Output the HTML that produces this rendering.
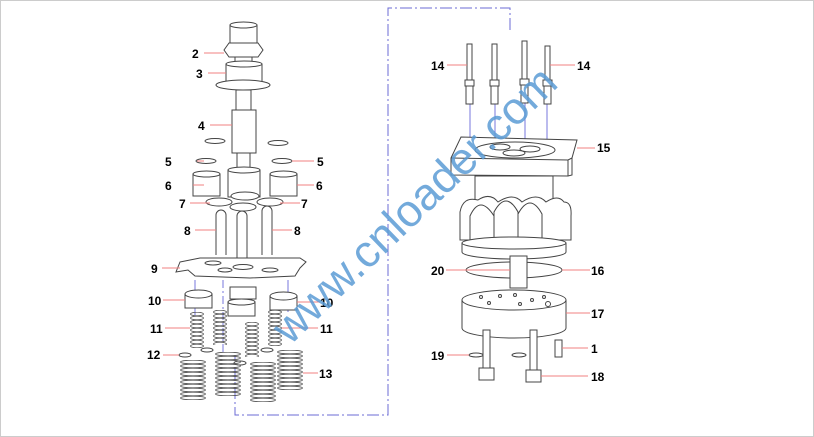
<!DOCTYPE html>
<html><head><meta charset="utf-8"><style>
html,body{margin:0;padding:0;background:#fff;}
svg{display:block;}
text{font-family:"Liberation Sans",sans-serif;font-weight:bold;font-size:12px;fill:#000;}
</style></head><body>
<svg width="814" height="437" viewBox="0 0 814 437" xmlns="http://www.w3.org/2000/svg">
<defs>
<pattern id="sps" width="14" height="4" patternUnits="userSpaceOnUse">
<ellipse cx="7" cy="2" rx="6.5" ry="1.8" fill="none" stroke="#555" stroke-width="0.8"/>
</pattern>
<pattern id="spl" width="26" height="4" patternUnits="userSpaceOnUse">
<ellipse cx="13" cy="2" rx="12.5" ry="1.8" fill="none" stroke="#555" stroke-width="0.8"/>
</pattern>
</defs>
<rect x="0.5" y="0.5" width="813" height="436" fill="#fff" stroke="#ccc"/>
<g fill="none" stroke="#6b6bd6" stroke-width="1" stroke-dasharray="12,3,2,3">
<polyline points="510,30 510,8 388,8 388,415 235,415 235,355"/>
</g>
<g stroke="#7777dd" stroke-width="1">
<line x1="470" y1="95" x2="470" y2="140"/><line x1="495" y1="95" x2="495" y2="140"/>
<line x1="525" y1="95" x2="525" y2="140"/><line x1="547" y1="95" x2="547" y2="140"/>
<line x1="195" y1="280" x2="195" y2="315"/><line x1="288" y1="280" x2="288" y2="312"/>
<line x1="223" y1="280" x2="223" y2="355" stroke-dasharray="8,3,2,3"/>
<line x1="241" y1="300" x2="241" y2="310"/>
</g>
<g fill="#fff" stroke="#444" stroke-width="1">
<rect x="230" y="25" width="27" height="20"/>
<ellipse cx="243.5" cy="25" rx="13.5" ry="3"/>
<polygon points="224,50 229,43 258,43 263,50 258,57 229,57"/>
<rect x="235" y="57" width="17" height="8"/>
<rect x="226" y="64" width="36" height="20"/>
<ellipse cx="244" cy="64" rx="18" ry="3"/>
<ellipse cx="243" cy="85" rx="27" ry="5"/>
<rect x="236" y="90" width="15" height="20"/>
<rect x="232" y="110" width="24" height="43"/>
<rect x="237" y="153" width="13" height="15"/>
<rect x="228" y="170" width="32" height="27"/>
<ellipse cx="244" cy="170" rx="16" ry="3"/>
<ellipse cx="215" cy="141" rx="10" ry="2.5"/><ellipse cx="278" cy="143" rx="10" ry="2.5"/>
<ellipse cx="206" cy="161" rx="10" ry="2.5"/><ellipse cx="282" cy="161" rx="10" ry="2.5"/>
<rect x="193" y="174" width="27" height="22"/><ellipse cx="206.5" cy="174" rx="13.5" ry="3"/>
<rect x="270" y="174" width="27" height="22"/><ellipse cx="283.5" cy="174" rx="13.5" ry="3"/>
<ellipse cx="219" cy="202" rx="13" ry="4"/><ellipse cx="270" cy="202" rx="13" ry="4"/>
<ellipse cx="245" cy="196" rx="14" ry="4"/><ellipse cx="243" cy="207" rx="13" ry="4"/>
<path d="M216,255 V215 a5,5 0 0 1 10,0 V255"/>
<path d="M237,258 V216 a5,5 0 0 1 10,0 V258"/>
<path d="M262,255 V211 a5,5 0 0 1 10,0 V255"/>
<polygon points="180,262 200,258 300,258 306,262 300,268 295,276 250,278 195,276 188,270 176,272"/>
<ellipse cx="213" cy="263" rx="8" ry="2"/><ellipse cx="243" cy="267" rx="10" ry="2.5"/>
<ellipse cx="270" cy="270" rx="8" ry="2"/><ellipse cx="225" cy="270" rx="7" ry="2"/>
<rect x="185" y="294" width="27" height="14"/><ellipse cx="198.5" cy="294" rx="13.5" ry="4"/>
<rect x="230" y="287" width="26" height="12"/>
<rect x="228" y="302" width="27" height="14"/><ellipse cx="241.5" cy="302" rx="13.5" ry="3"/>
<rect x="270" y="296" width="27" height="14"/><ellipse cx="283.5" cy="296" rx="13.5" ry="4"/>
<ellipse cx="185" cy="355" rx="6" ry="2"/><ellipse cx="207" cy="350" rx="6" ry="2"/>
<ellipse cx="240" cy="363" rx="6" ry="2"/><ellipse cx="267" cy="350" rx="6" ry="2"/>
</g>
<g>
<g transform="translate(190,312)"><rect width="14" height="36" fill="url(#sps)"/></g>
<g transform="translate(213,310)"><rect width="14" height="35" fill="url(#sps)"/></g>
<g transform="translate(245,322)"><rect width="14" height="35" fill="url(#sps)"/></g>
<g transform="translate(268,310)"><rect width="14" height="36" fill="url(#sps)"/></g>
<g transform="translate(180,360)"><rect width="26" height="40" fill="url(#spl)"/></g>
<g transform="translate(215,352)"><rect width="26" height="44" fill="url(#spl)"/></g>
<g transform="translate(250,362)"><rect width="26" height="40" fill="url(#spl)"/></g>
<g transform="translate(277,350)"><rect width="26" height="40" fill="url(#spl)"/></g>
</g>
<g fill="#fff" stroke="#444" stroke-width="1">
<g>
<rect x="467" y="44" width="5" height="36"/><rect x="465" y="80" width="9" height="6"/><rect x="466" y="86" width="7" height="18"/>
<rect x="492" y="44" width="5" height="36"/><rect x="490" y="80" width="9" height="6"/><rect x="491" y="86" width="7" height="18"/>
<rect x="522" y="41" width="5" height="38"/><rect x="520" y="79" width="9" height="6"/><rect x="521" y="85" width="7" height="18"/>
<rect x="545" y="46" width="5" height="34"/><rect x="543" y="80" width="9" height="6"/><rect x="544" y="86" width="7" height="18"/>
</g>
<polygon points="451,158 461,137 577,140 572,158 572,175 568,176 451,175"/>
<polyline points="451,158 568,160 572,158"/><line x1="568" y1="160" x2="568" y2="176"/>
<ellipse cx="515" cy="150" rx="40" ry="8"/>
<ellipse cx="500" cy="147" rx="10" ry="3"/><ellipse cx="530" cy="149" rx="10" ry="3"/><ellipse cx="514" cy="153" rx="11" ry="3"/>
<rect x="475" y="176" width="78" height="32"/>
<path d="M460,240 V212 q3,-16 18,-12 q12,-8 20,2 q15,-10 24,0 q15,-10 24,0 q12,-8 18,0 q8,0 7,14 V240 Z"/>
<path d="M470,240 V216 q10,-22 24,0 V240 M494,240 V212 q12,-22 24,0 V240 M518,240 V214 q12,-22 24,0 V240"/>
<path d="M462,243 V252 A52,7 0 0 0 566,252 V243"/>
<ellipse cx="514" cy="243" rx="52" ry="6"/>
<ellipse cx="514" cy="270" rx="48" ry="8"/>
<rect x="510" y="256" width="17" height="32"/>
<path d="M462,300 V328 A52,10 0 0 0 566,328 V300"/>
<ellipse cx="514" cy="300" rx="52" ry="10"/>
<g fill="#fff"><circle cx="481" cy="297" r="1.5"/><circle cx="500" cy="296" r="1.5"/><circle cx="515" cy="295" r="1.5"/><circle cx="544" cy="297" r="1.5"/><circle cx="489" cy="303" r="1.5"/><circle cx="520" cy="304" r="1.5"/><circle cx="532" cy="300" r="1.5"/><circle cx="548" cy="304" r="2.5"/></g>
<rect x="483" y="330" width="7" height="40"/><rect x="479" y="368" width="15" height="12"/>
<rect x="530" y="330" width="7" height="40"/><rect x="526" y="370" width="15" height="12"/>
<ellipse cx="476" cy="355" rx="7" ry="2"/><ellipse cx="519" cy="355" rx="7" ry="2"/>
<rect x="555" y="340" width="7" height="17"/>
</g>
<g stroke="#f08080" stroke-width="1">
<line x1="204" y1="53" x2="224" y2="53"/><line x1="208" y1="73" x2="226" y2="73"/>
<line x1="210" y1="125" x2="232" y2="125"/>
<line x1="204" y1="161" x2="197" y2="161"/><line x1="292" y1="161" x2="314" y2="161"/>
<line x1="204" y1="185" x2="193" y2="185"/><line x1="297" y1="185" x2="314" y2="185"/>
<line x1="190" y1="203" x2="210" y2="203"/><line x1="280" y1="203" x2="300" y2="203"/>
<line x1="195" y1="230" x2="216" y2="230"/><line x1="272" y1="230" x2="292" y2="230"/>
<line x1="162" y1="268" x2="180" y2="268"/>
<line x1="163" y1="300" x2="185" y2="300"/><line x1="297" y1="302" x2="320" y2="302"/>
<line x1="165" y1="328" x2="190" y2="328"/><line x1="282" y1="328" x2="318" y2="328"/>
<line x1="163" y1="355" x2="179" y2="355"/><line x1="303" y1="373" x2="318" y2="373"/>
<line x1="447" y1="65" x2="467" y2="65"/><line x1="550" y1="65" x2="575" y2="65"/>
<line x1="577" y1="148" x2="595" y2="148"/>
<line x1="446" y1="270" x2="510" y2="270"/><line x1="562" y1="270" x2="590" y2="270"/>
<line x1="566" y1="313" x2="590" y2="313"/>
<line x1="447" y1="355" x2="469" y2="355"/><line x1="562" y1="348" x2="588" y2="348"/>
<line x1="541" y1="376" x2="588" y2="376"/>
</g>
<g>
<text x="192" y="58">2</text><text x="196" y="78">3</text><text x="198" y="130">4</text>
<text x="165" y="166">5</text><text x="317" y="166">5</text>
<text x="165" y="190">6</text><text x="316" y="190">6</text>
<text x="179" y="208">7</text><text x="301" y="208">7</text>
<text x="184" y="235">8</text><text x="294" y="235">8</text>
<text x="151" y="273">9</text>
<text x="148" y="305">10</text><text x="320" y="307">10</text>
<text x="150" y="333">11</text><text x="320" y="333">11</text>
<text x="147" y="359">12</text><text x="319" y="378">13</text>
<text x="431" y="70">14</text><text x="577" y="70">14</text>
<text x="597" y="152">15</text>
<text x="431" y="275">20</text><text x="591" y="275">16</text>
<text x="591" y="318">17</text>
<text x="431" y="360">19</text><text x="591" y="353">1</text>
<text x="591" y="381">18</text>
</g>
<text x="0" y="0" transform="translate(290,346) rotate(-44)" style="font-family:'Liberation Sans',sans-serif;font-weight:normal;font-size:45px;fill:#5b9bd5;fill-opacity:0.85">www.cnloader.com</text>
</svg>
</body></html>
